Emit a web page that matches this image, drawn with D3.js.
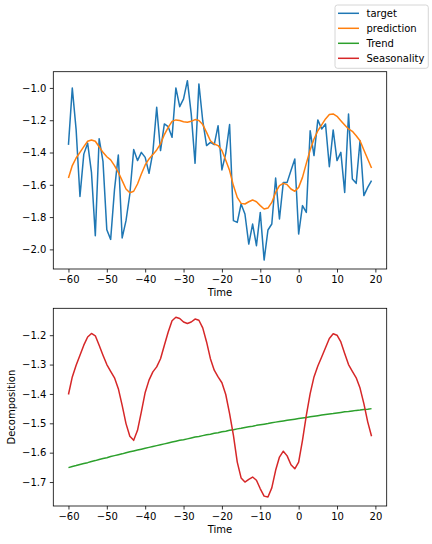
<!DOCTYPE html>
<html>
<head>
<meta charset="utf-8">
<script src="https://cdn.jsdelivr.net/npm/d3@7"></script>
<style>
  body { margin: 0; background: #fff; }
  svg { display: block; font-family: "DejaVu Sans", sans-serif; }
</style>
</head>
<body>
<svg id="chart" width="432" height="544"></svg>
<script>
var time = [-60,-59,-58,-57,-56,-55,-54,-53,-52,-51,-50,-49,-48,-47,-46,-45,-44,-43,-42,-41,
  -40,-39,-38,-37,-36,-35,-34,-33,-32,-31,-30,-29,-28,-27,-26,-25,-24,-23,-22,-21,
  -20,-19,-18,-17,-16,-15,-14,-13,-12,-11,-10,-9,-8,-7,-6,-5,-4,-3,-2,-1,
  0,1,2,3,4,5,6,7,8,9,10,11,12,13,14,15,16,17,18,19];

var target = [-1.353,-1.001,-1.258,-1.672,-1.41,-1.342,-1.523,-1.915,-1.314,-1.455,
  -1.879,-1.938,-1.63,-1.415,-1.929,-1.822,-1.657,-1.382,-1.45,-1.399,
  -1.43,-1.529,-1.399,-1.12,-1.388,-1.223,-1.24,-1.306,-1.0,-1.116,
  -1.068,-0.955,-1.161,-1.467,-0.975,-1.203,-1.357,-1.337,-1.351,-1.234,
  -1.508,-1.405,-1.227,-1.822,-1.833,-1.719,-1.781,-1.967,-1.843,-1.977,
  -1.771,-2.066,-1.88,-1.843,-1.558,-1.812,-1.585,-1.585,-1.512,-1.44,
  -1.905,-1.729,-1.771,-1.265,-1.419,-1.198,-1.254,-1.223,-1.488,-1.26,
  -1.45,-1.399,-1.647,-1.161,-1.564,-1.591,-1.327,-1.667,-1.616,-1.574];

var prediction = [-1.558,-1.481,-1.434,-1.399,-1.364,-1.33,-1.322,-1.33,-1.364,-1.399,
  -1.426,-1.446,-1.481,-1.523,-1.574,-1.626,-1.649,-1.64,-1.595,-1.533,
  -1.477,-1.44,-1.413,-1.384,-1.347,-1.289,-1.244,-1.207,-1.198,-1.202,
  -1.209,-1.213,-1.207,-1.196,-1.202,-1.227,-1.275,-1.327,-1.347,-1.357,
  -1.388,-1.448,-1.512,-1.605,-1.678,-1.715,-1.719,-1.705,-1.694,-1.705,
  -1.729,-1.75,-1.744,-1.709,-1.647,-1.605,-1.591,-1.599,-1.626,-1.64,
  -1.616,-1.554,-1.467,-1.384,-1.316,-1.265,-1.229,-1.192,-1.165,-1.161,
  -1.176,-1.203,-1.229,-1.254,-1.269,-1.296,-1.327,-1.384,-1.44,-1.496];

var trend = [-1.651,-1.647,-1.644,-1.640,-1.637,-1.634,-1.630,-1.627,-1.623,-1.620,
  -1.617,-1.613,-1.610,-1.607,-1.604,-1.600,-1.597,-1.594,-1.591,-1.588,
  -1.585,-1.582,-1.579,-1.576,-1.573,-1.570,-1.567,-1.564,-1.561,-1.558,
  -1.556,-1.553,-1.550,-1.547,-1.545,-1.542,-1.539,-1.537,-1.534,-1.532,
  -1.529,-1.527,-1.524,-1.522,-1.519,-1.517,-1.514,-1.512,-1.510,-1.507,
  -1.505,-1.503,-1.501,-1.498,-1.496,-1.494,-1.492,-1.490,-1.488,-1.486,
  -1.484,-1.482,-1.480,-1.478,-1.476,-1.474,-1.472,-1.470,-1.468,-1.467,
  -1.465,-1.463,-1.461,-1.460,-1.458,-1.456,-1.455,-1.453,-1.452,-1.450];

var seasonality = [-1.402,-1.342,-1.302,-1.268,-1.234,-1.206,-1.194,-1.202,-1.234,-1.268,
  -1.300,-1.323,-1.345,-1.382,-1.439,-1.501,-1.544,-1.558,-1.524,-1.461,
  -1.395,-1.353,-1.325,-1.308,-1.280,-1.234,-1.189,-1.151,-1.139,-1.143,
  -1.155,-1.160,-1.155,-1.145,-1.149,-1.175,-1.223,-1.280,-1.319,-1.342,
  -1.362,-1.402,-1.467,-1.541,-1.632,-1.686,-1.700,-1.691,-1.683,-1.694,
  -1.723,-1.748,-1.751,-1.720,-1.660,-1.615,-1.595,-1.611,-1.641,-1.655,
  -1.632,-1.558,-1.473,-1.399,-1.342,-1.305,-1.274,-1.243,-1.211,-1.195,
  -1.200,-1.223,-1.262,-1.300,-1.323,-1.345,-1.380,-1.433,-1.495,-1.544];

var xTicks = [-60,-50,-40,-30,-20,-10,0,10,20];
var topYTicks = [-2.0,-1.8,-1.6,-1.4,-1.2,-1.0];
var bottomYTicks = [-1.7,-1.6,-1.5,-1.4,-1.3,-1.2];

var legendNames = ["target","prediction","Trend","Seasonality"];
var colors = ["#1f77b4","#ff7f0e","#2ca02c","#d62728"];

var svg = d3.select("svg#chart");
var left = 53.3, right = 386.7;

// matplotlib style 5% margins
function padded(ext) {
  var p = (ext[1] - ext[0]) * 0.05;
  return [ext[0] - p, ext[1] + p];
}

var x = d3.scaleLinear()
          .domain(padded(d3.extent(time)))
          .range([left, right]);

function panel(top, bottom, series, yTicks, yLabel) {
  var all = [];
  series.forEach(function(s) { all = all.concat(s.values); });
  var y = d3.scaleLinear()
            .domain(padded(d3.extent(all)))
            .range([bottom, top]);

  var g = svg.append("g");

  series.forEach(function(s) {
    var line = d3.line()
                 .x(function(d, i) { return x(time[i]); })
                 .y(function(d) { return y(d); });
    g.append("path")
     .datum(s.values)
     .attr("fill", "none")
     .attr("stroke", s.color)
     .attr("stroke-width", 1.5)
     .attr("stroke-linejoin", "round")
     .attr("d", line);
  });

  // frame
  g.append("rect")
   .attr("x", left).attr("y", top)
   .attr("width", right - left).attr("height", bottom - top)
   .attr("fill", "none").attr("stroke", "#000").attr("stroke-width", 0.8);

  var xAxis = g.append("g")
               .attr("transform", "translate(0," + bottom + ")")
               .call(d3.axisBottom(x).tickValues(xTicks).tickSize(3.5).tickPadding(3.5)
                     .tickSizeOuter(0).tickFormat(d3.format("d")));
  var yAxis = g.append("g")
               .attr("transform", "translate(" + left + ",0)")
               .call(d3.axisLeft(y).tickValues(yTicks).tickSize(3.5).tickPadding(3.5)
                     .tickSizeOuter(0).tickFormat(d3.format(".1f")));

  [xAxis, yAxis].forEach(function(a) {
    a.select(".domain").remove();
    a.selectAll(".tick line").attr("stroke", "#000").attr("stroke-width", 0.8);
    a.selectAll(".tick text").attr("fill", "#000")
     .style("font-size", "10px").style("font-family", "DejaVu Sans");
  });

  g.append("text")
   .attr("x", (left + right) / 2)
   .attr("y", bottom + 27)
   .attr("text-anchor", "middle")
   .attr("font-size", 10)
   .attr("fill", "#000")
   .text("Time");

  if (yLabel) {
    g.append("text")
     .attr("transform", "translate(15," + ((top + bottom) / 2) + ") rotate(-90)")
     .attr("text-anchor", "middle")
     .attr("font-size", 10)
     .attr("fill", "#000")
     .text(yLabel);
  }
}

panel(71.7, 269, [
  {values: target, color: colors[0]},
  {values: prediction, color: colors[1]}
], topYTicks, null);

panel(308.3, 506, [
  {values: trend, color: colors[2]},
  {values: seasonality, color: colors[3]}
], bottomYTicks, "Decomposition");

// figure legend, top right
var legend = svg.append("g");
legend.append("rect")
      .attr("x", 335).attr("y", 5)
      .attr("width", 93.3).attr("height", 63.3)
      .attr("rx", 2.5)
      .attr("fill", "#fff").attr("fill-opacity", 0.8)
      .attr("stroke", "#ccc").attr("stroke-width", 0.8);

var items = legend.selectAll(".item")
                  .data(legendNames)
                  .enter().append("g")
                  .attr("class", "item")
                  .attr("transform", function(d, i) { return "translate(0," + (13.3 + i * 15) + ")"; });

items.append("line")
     .attr("x1", 338).attr("x2", 359)
     .attr("stroke", function(d, i) { return colors[i]; })
     .attr("stroke-width", 1.5);

items.append("text")
     .attr("x", 366.5)
     .attr("dy", "0.35em")
     .attr("font-size", 10)
     .attr("fill", "#000")
     .text(function(d) { return d; });
</script>
</body>
</html>
